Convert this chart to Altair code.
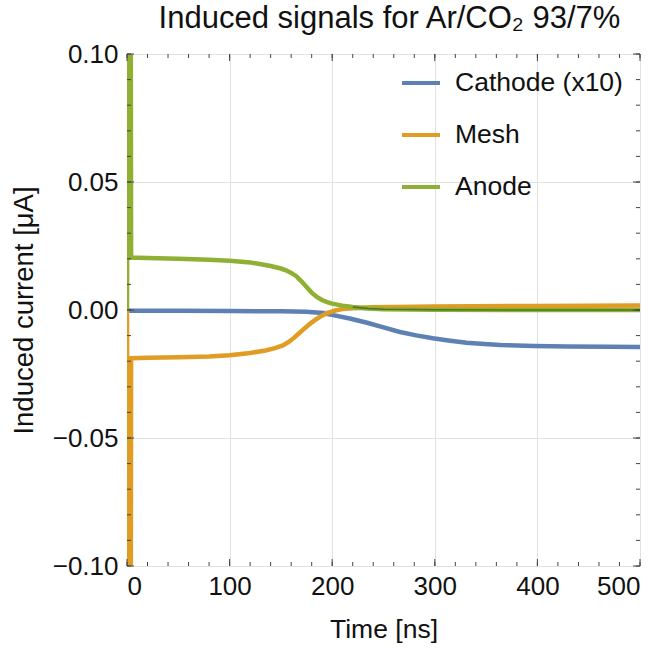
import altair as alt
import pandas as pd

# ---- data ----
title_text = "Induced signals for Ar/CO₂ 93/7%"
series_names = ["Cathode (x10)", "Mesh", "Anode"]
series_colors = ["#5E81B5", "#E19C24", "#8FB032"]

t_cathode = [0, 3, 50, 100, 150, 175, 190, 201, 217, 234, 250, 266, 282, 298, 315,
             331, 348, 364, 380, 396, 430, 470, 500]
cathode = [0.0, -0.0003, -0.0003, -0.0004, -0.0005, -0.0007, -0.0012, -0.0020, -0.0033,
           -0.0050, -0.0068, -0.0086, -0.0099, -0.0110, -0.0120, -0.0128, -0.0133,
           -0.0137, -0.0139, -0.0141, -0.0143, -0.0144, -0.0145]

t_mesh = [0, 2, 3, 4, 20, 50, 80, 100, 120, 135, 145, 152, 158, 163, 168, 173, 178, 184,
          190, 196, 203, 210, 220, 240, 300, 400, 500]
mesh = [0.0, -0.3, -0.3, -0.0188, -0.0187, -0.0185, -0.0182, -0.0177, -0.0168, -0.0158,
        -0.0148, -0.0138, -0.0124, -0.0108, -0.0090, -0.0072, -0.0055, -0.0037, -0.0022,
        -0.0011, -0.0002, 0.0004, 0.0008, 0.0011, 0.0014, 0.0016, 0.0018]

t_anode = [0, 2, 3, 4, 20, 50, 80, 100, 120, 140, 150, 155, 160, 165, 170, 175, 180, 185,
           190, 195, 200, 210, 220, 235, 250, 300, 400, 500]
anode = [0.0, 0.3, 0.3, 0.0205, 0.0203, 0.0200, 0.0196, 0.0192, 0.0186, 0.0172, 0.0162,
         0.0155, 0.0145, 0.0132, 0.0112, 0.0090, 0.0068, 0.0051, 0.0039, 0.0031, 0.0025,
         0.0017, 0.0012, 0.0006, 0.0003, 0.0001, 0.0, 0.0]

x_major = [0, 100, 200, 300, 400, 500]
y_major = [-0.1, -0.05, 0.0, 0.05, 0.1]
x_minor = list(range(0, 501, 20))
y_minor = [round(-0.1 + 0.01 * i, 2) for i in range(21)]

W, H = 513, 512
FONT = "Liberation Sans"

rows = []
for name, ts, vs in [(series_names[0], t_cathode, cathode),
                     (series_names[1], t_mesh, mesh),
                     (series_names[2], t_anode, anode)]:
    for i, (t, v) in enumerate(zip(ts, vs)):
        rows.append({"series": name, "t": t, "v": v, "i": i})
df = pd.DataFrame(rows)

xs = alt.Scale(domain=[0, 500], nice=False)
ys = alt.Scale(domain=[-0.1, 0.1], nice=False)

xaxis = alt.Axis(values=x_major, title="Time [ns]", format="d", tickSize=0,
                 labelPadding=7, domain=False, grid=True, gridColor="#e2e2e2",
                 labelFont=FONT, labelFontSize=26, labelColor="#111",
                 titleFont=FONT, titleFontSize=26.5, titleFontWeight="normal",
                 titleColor="#111", titlePadding=17)
yaxis = alt.Axis(values=y_major, title="Induced current [μA]", format=".2f", tickSize=0,
                 labelPadding=9, domain=False, grid=True, gridColor="#e2e2e2",
                 labelFont=FONT, labelFontSize=26, labelColor="#111",
                 titleFont=FONT, titleFontSize=27.5, titleFontWeight="normal",
                 titleColor="#111", titlePadding=14)

color = alt.Color("series:N", scale=alt.Scale(domain=series_names, range=series_colors),
                  legend=alt.Legend(title=None, orient="none", legendX=273, legendY=8,
                                    symbolType="stroke", symbolSize=1444,
                                    symbolStrokeWidth=4, labelFont=FONT,
                                    labelFontSize=26.5, labelColor="#111", labelLimit=400,
                                    labelOffset=13, rowPadding=17, padding=0))

base = alt.Chart(df)

lines = base.mark_line(strokeWidth=4.5, clip=True).encode(
    x=alt.X("t:Q", scale=xs, axis=xaxis),
    y=alt.Y("v:Q", scale=ys, axis=yaxis),
    color=color,
    order="i:Q",
    detail="series:N",
)

tail = base.transform_filter(
    (alt.datum.series == "Anode") & (alt.datum.t >= 215)
).mark_line(strokeWidth=1.5, color="#4f7326", clip=True).encode(
    x=alt.X("t:Q", scale=xs), y=alt.Y("v:Q", scale=ys), order="i:Q")

# inward frame ticks
def tick_layer(vals, length, side):
    d = pd.DataFrame({"val": vals})
    c = alt.Chart(d).mark_rule(color="#444", strokeWidth=1)
    if side == "bottom":
        return c.encode(x=alt.X("val:Q", scale=xs), y=alt.value(H), y2=alt.value(H - length))
    if side == "top":
        return c.encode(x=alt.X("val:Q", scale=xs), y=alt.value(0), y2=alt.value(length))
    if side == "left":
        return c.encode(y=alt.Y("val:Q", scale=ys), x=alt.value(0), x2=alt.value(length))
    return c.encode(y=alt.Y("val:Q", scale=ys), x=alt.value(W), x2=alt.value(W - length))

ticks = []
for side in ["bottom", "top"]:
    ticks.append(tick_layer(x_minor, 4, side))
    ticks.append(tick_layer(x_major, 7, side))
for side in ["left", "right"]:
    ticks.append(tick_layer(y_minor, 4, side))
    ticks.append(tick_layer(y_major, 7, side))

title_layer = alt.Chart(pd.DataFrame({"title": [title_text]})).mark_text(
    font=FONT, fontSize=31, color="#111", align="center", baseline="alphabetic",
    clip=False,
).encode(text="title:N", x=alt.value(W / 2 + 6), y=alt.value(-26))

chart = alt.layer(lines, tail, *ticks, title_layer).properties(
    width=W, height=H,
    autosize=alt.AutoSizeParams(type="none"),
    padding={"left": 127, "top": 54, "right": 27, "bottom": 98},
).configure_view(stroke="#444", strokeWidth=1).configure(background="white")

chart.save("out.html", embed_options={"renderer": "svg", "actions": False})
